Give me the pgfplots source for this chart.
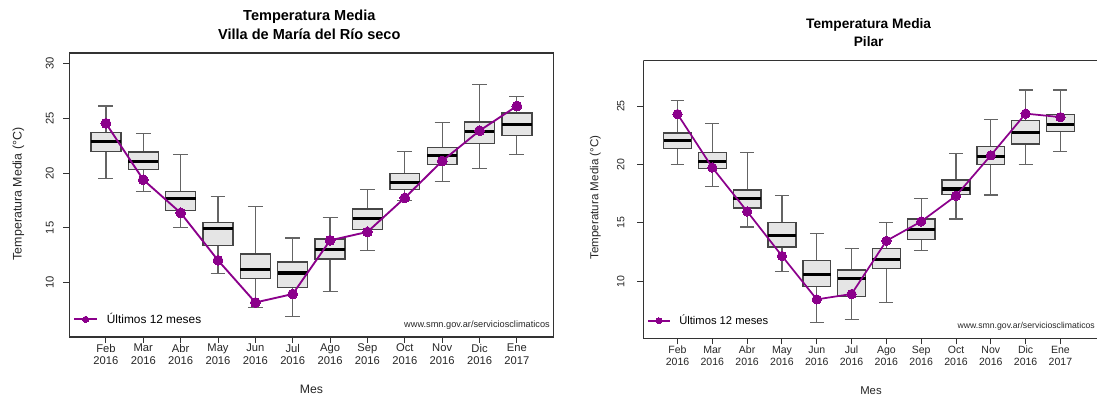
\documentclass[border=0pt]{standalone}
\usepackage{fontspec}
\setmainfont{Liberation Sans}
\usepackage{pgfplots}
\pgfplotsset{compat=1.18}
\usepgfplotslibrary{statistics}
\definecolor{purp}{RGB}{139,0,139}
\definecolor{boxfill}{RGB}{229,229,229}
\definecolor{boxdraw}{RGB}{70,70,70}
\definecolor{whisk}{RGB}{100,100,100}
\definecolor{frame}{RGB}{51,51,51}
\newcommand{\bx}[6]{\addplot[forget plot, draw=boxdraw, boxplot prepared={draw position=#1, lower whisker=#2, lower quartile=#3, median=#4, upper quartile=#5, upper whisker=#6, box extend=0.8, whisker extend=0.4}] coordinates {};}
\pgfplotsset{
  smnbase/.style={
    scale only axis, anchor=south west,
    xtick={1,2,3,4,5,6,7,8,9,10,11,12},
    xticklabels={{Feb\\2016},{Mar\\2016},{Abr\\2016},{May\\2016},{Jun\\2016},{Jul\\2016},{Ago\\2016},{Sep\\2016},{Oct\\2016},{Nov\\2016},{Dic\\2016},{Ene\\2017}},
    tick align=outside, major tick length=4.5pt,
    xtick pos=bottom, ytick pos=left,
    axis line style={draw=frame, line width=0.9pt},
    tick style={draw=frame, line width=0.75pt},
    xticklabel style={align=center, anchor=north, inner sep=0pt, text=black!85},
    yticklabel style={rotate=90, anchor=south, inner sep=0pt, text=black!85},
    /pgf/number format/assume math mode=true,
    boxplot/draw direction=y,
    boxplot/every box/.style={draw=boxdraw, fill=boxfill, line width=1.0pt},
    boxplot/every median/.style={draw=black, line width=2.3pt},
    boxplot/every whisker/.style={draw=whisk, line width=0.9pt},
    legend style={draw=none, fill=none, inner sep=0pt, outer sep=0pt, anchor=west, nodes={inner sep=0pt}, /tikz/every odd column/.append style={column sep=6.5pt}},
    legend cell align=left,
  },
}
\begin{document}
\begin{tikzpicture}
\useasboundingbox (0,0) rectangle (822.75pt,297pt);
% ---------------- Left panel ----------------
\begin{axis}[smnbase,
  at={(51.98pt,44.25pt)}, width=363.15pt, height=213pt,
  xmin=0.02, xmax=12.98, ymin=5.04, ymax=30.96,
  ytick={10,15,20,25,30},
  tick label style={font=\fontsize{8.4}{9.2}\selectfont},
  xticklabel shift=0.6pt, yticklabel shift=7pt,
  legend style={at={(axis description cs:0.008,0.062)}, font=\fontsize{8.9}{10}\selectfont},
  legend image code/.code={\draw[mark repeat=2,mark phase=2,#1,mark size=2.3pt] plot coordinates {(0pt,0pt) (8.7pt,0pt) (17.4pt,0pt)};},
]
\bx{1}{19.51}{21.98}{22.86}{23.69}{26.12}
\bx{2}{18.32}{20.30}{21.03}{21.91}{23.60}
\bx{3}{15.05}{16.58}{17.65}{18.32}{21.67}
\bx{4}{10.82}{13.38}{14.90}{15.51}{17.89}
\bx{5}{7.73}{10.36}{11.24}{12.62}{16.92}
\bx{6}{6.94}{9.56}{10.88}{11.88}{14.08}
\bx{7}{9.19}{12.16}{13.01}{13.99}{15.91}
\bx{8}{12.95}{14.84}{15.82}{16.73}{18.47}
\bx{9}{17.52}{18.50}{19.12}{19.95}{22.00}
\bx{10}{19.20}{20.79}{21.62}{22.31}{24.60}
\bx{11}{20.39}{22.68}{23.83}{24.66}{28.11}
\bx{12}{21.67}{23.44}{24.45}{25.48}{26.98}
\addplot[purp, line width=1.4pt, mark=*, mark size=3.7pt, mark options={fill=purp, draw=purp, line width=0pt}] coordinates {
(1,24.54) (2,19.39) (3,16.37) (4,12.04) (5,8.19) (6,8.96) (7,13.86) (8,14.63) (9,17.74) (10,21.10) (11,23.87) (12,26.12)};
\addlegendentry{Últimos 12 meses}
\node[anchor=east, inner sep=0pt, font=\fontsize{6.9}{8}\selectfont, text=black!85] at (axis description cs:0.9928,0.0423) {www.smn.gov.ar/serviciosclimaticos};
\end{axis}
% ---------------- Right panel ----------------
\begin{axis}[smnbase,
  at={(482.55pt,43.275pt)}, width=340.2pt, height=208.2pt,
  xmin=0.02, xmax=13.05, ymin=5.12, ymax=28.88,
  axis lines*=left,
  ytick={10,15,20,25},
  tick label style={font=\fontsize{7.9}{9.0}\selectfont},
  xticklabel shift=0.9pt, yticklabel shift=9.5pt,
  legend style={at={(axis description cs:0.0086,0.0634)}, font=\fontsize{8.4}{9.5}\selectfont},
  legend image code/.code={\draw[mark repeat=2,mark phase=2,#1,mark size=2.2pt] plot coordinates {(0pt,0pt) (8.1pt,0pt) (16.2pt,0pt)};},
]
\bx{1}{19.99}{21.37}{22.03}{22.68}{25.49}
\bx{2}{18.13}{19.65}{20.22}{21.05}{23.49}
\bx{3}{14.64}{16.27}{17.08}{17.82}{21.05}
\bx{4}{10.83}{12.92}{13.89}{15.03}{17.33}
\bx{5}{6.48}{9.54}{10.60}{11.80}{14.09}
\bx{6}{6.70}{8.71}{10.22}{10.97}{12.78}
\bx{7}{8.16}{11.08}{11.89}{12.78}{15.03}
\bx{8}{12.63}{13.57}{14.40}{15.33}{17.08}
\bx{9}{15.33}{17.40}{17.90}{18.66}{20.93}
\bx{10}{17.38}{19.97}{20.67}{21.53}{23.86}
\bx{11}{19.99}{21.74}{22.77}{23.77}{26.37}
\bx{12}{21.13}{22.80}{23.40}{24.29}{26.37}
\addplot[purp, line width=1.3pt, mark=*, mark size=3.5pt, mark options={fill=purp, draw=purp, line width=0pt}] coordinates {
(1,24.31) (2,19.73) (3,15.98) (4,12.17) (5,8.45) (6,8.91) (7,13.46) (8,15.12) (9,17.32) (10,20.78) (11,24.35) (12,24.05)};
\addlegendentry{Últimos 12 meses}
\draw[draw=frame, line width=0.9pt] (rel axis cs:0,1) -- (rel axis cs:1,1);
\node[anchor=east, inner sep=0pt, font=\fontsize{6.5}{7.5}\selectfont, text=black!85] at (axis description cs:0.9956,0.0418) {www.smn.gov.ar/serviciosclimaticos};
\end{axis}
% ---------------- Titles and labels ----------------
\node[font=\bfseries\fontsize{10.9}{12}\selectfont, inner sep=0pt, text height=0.72em, text depth=0pt] at (231.98pt,285.4pt) {Temperatura Media};
\node[font=\bfseries\fontsize{10.9}{12}\selectfont, inner sep=0pt, text height=0.72em, text depth=0pt] at (231.98pt,271.3pt) {Villa de María del Río seco};
\node[font=\bfseries\fontsize{10.3}{12}\selectfont, inner sep=0pt, text height=0.72em, text depth=0pt] at (651.5pt,279.5pt) {Temperatura Media};
\node[font=\bfseries\fontsize{10.3}{12}\selectfont, inner sep=0pt, text height=0.72em, text depth=0pt] at (651.5pt,266.0pt) {Pilar};
\node[font=\fontsize{9.2}{11}\selectfont, inner sep=0pt, text height=0.72em, text depth=0pt, text=black!85] at (233.55pt,5.4pt) {Mes};
\node[font=\fontsize{8.5}{10}\selectfont, inner sep=0pt, text height=0.72em, text depth=0pt, text=black!85] at (653.25pt,4.5pt) {Mes};
\node[rotate=90, font=\fontsize{9.3}{11}\selectfont, inner sep=0pt, text height=0.73em, text depth=0.21em, text=black!85] at (13.7pt,151.5pt) {Temperatura Media (°C)};
\node[rotate=90, font=\fontsize{8.7}{10}\selectfont, inner sep=0pt, text height=0.73em, text depth=0.21em, text=black!85] at (446.25pt,148.9pt) {Temperatura Media (°C)};
\end{tikzpicture}
\end{document}
